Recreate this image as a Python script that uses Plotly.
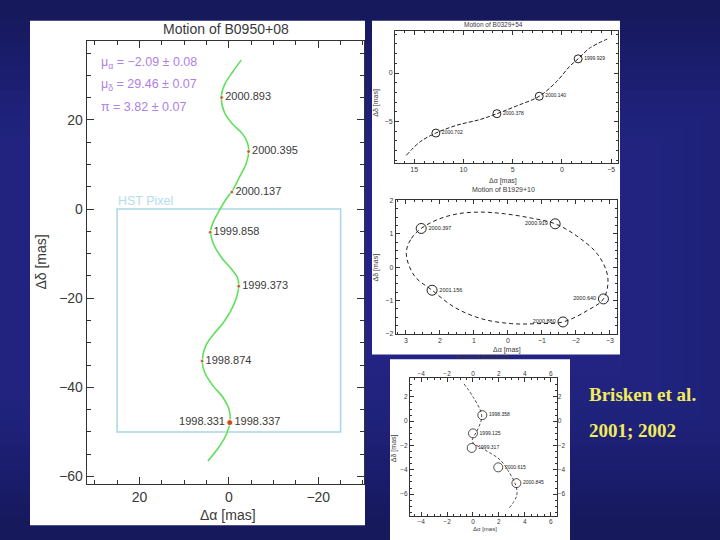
import plotly.graph_objects as go

W, H = 720, 540

# ---------------- Main panel: B0950+08 ----------------
curve_x = [-2.77, -0.89, 0.96, 1.70, 0.96, -0.89, -3.13, -4.24, -4.46, -3.88, -2.39, -0.89,
           0.96, 2.46, 3.57, 4.08, 3.57, 1.70, -0.54, -1.88, -2.23, -1.65, -0.54, 1.34,
           3.19, 5.04, 5.94, 5.42, 3.57, 1.34, 0.0, -0.31, 0.45, 2.08, 4.69]
curve_y = [33.4, 30.8, 27.9, 24.9, 21.6, 19.0, 16.8, 14.6, 13.0, 10.2, 7.2, 4.3,
           1.7, -0.9, -3.1, -4.9, -7.5, -10.8, -13.4, -15.3, -17.1, -20.0, -22.6, -25.6,
           -27.8, -30.4, -34.1, -36.6, -39.6, -42.2, -44.8, -47.3, -50.3, -53.2, -56.5]
epochs = ["1998.331", "1998.337", "1998.874", "1999.373", "1999.858", "2000.137", "2000.395", "2000.893"]
epoch_x = [-0.2, -0.2, 6.0, -2.2, 4.2, -0.7, -4.4, 1.6]
epoch_y = [-47.9, -47.9, -34.1, -17.3, -5.2, 3.8, 12.9, 25.0]
hst_box = [25, -25, -50, 0]  # x0, x1, y0, y1
params = ["μ<sub>α</sub> = −2.09 ± 0.08", "μ<sub>δ</sub> = 29.46 ± 0.07", "π = 3.82 ± 0.07"]
main_xticks = [20, 0, -20]
main_yticks = [20, 0, -20, -40, -60]

# ---------------- Panel 2: B0329+54 ----------------
p2_x = [15.8, 14.4, 12.8, 10.7, 8.3, 6.6, 4.6, 2.3, 0.5, -0.8, -1.65, -2.8, -4.6]
p2_y = [-8.5, -7.1, -6.2, -5.4, -4.8, -4.2, -3.4, -2.4, -0.85, 0.7, 1.46, 2.55, 3.5]
p2_ep = ["2000.702", "2000.378", "2000.140", "1999.929"]
p2_ep_x = [12.8, 6.6, 2.3, -1.65]
p2_ep_y = [-6.2, -4.2, -2.4, 1.46]

# ---------------- Panel 3: B1929+10 ----------------
p3_x = [2.99, 2.84, 2.55, 2.06, 1.47, 0.79, 0.10, -0.69, -1.39, -2.06, -2.65, -2.94,
        -2.81, -2.35, -1.62, -0.88, -0.10, 0.79, 1.57, 2.23, 2.75, 2.99]
p3_y = [0.42, 0.86, 1.16, 1.43, 1.60, 1.65, 1.60, 1.47, 1.30, 0.91, 0.37, -0.31,
        -0.95, -1.29, -1.64, -1.69, -1.69, -1.54, -1.20, -0.69, -0.26, 0.42]
p3_ep = ["2000.397", "2000.919", "2001.156", "2000.640", "2000.880"]
p3_ep_x = [2.55, -1.39, 2.23, -2.81, -1.62]
p3_ep_y = [1.16, 1.30, -0.69, -0.95, -1.64]
p3_pos = ["middle right", "middle left", "middle right", "middle left", "middle left"]

# ---------------- Panel 5: B2016+28 ----------------
p5_x = [-0.69, 0.02, 0.67, 0.41, -0.05, 0.93, 2.08, 2.73, 3.32, 3.37, 2.73]
p5_y = [3.07, 1.98, 0.49, -0.59, -1.67, -2.36, -3.17, -4.11, -5.33, -6.15, -7.24]
p5_ep = ["1998.358", "1999.125", "1999.317", "2000.615", "2000.845"]
p5_ep_x = [0.72, 0.0, -0.1, 1.95, 3.35]
p5_ep_y = [0.5, -1.0, -2.2, -3.8, -5.1]


def fx(px):
    return px / W


def fy(py):
    return 1 - py / H


fig = go.Figure()

# main
fig.add_trace(go.Scatter(x=curve_x, y=curve_y, mode="lines", line=dict(color="#5fe05a", width=1.6, shape="spline"),
                         xaxis="x", yaxis="y", hoverinfo="skip"))
fig.add_trace(go.Scatter(x=epoch_x, y=epoch_y, mode="markers+text", text=epochs,
                         textposition=["middle left"] + ["middle right"] * 7,
                         textfont=dict(family="Liberation Sans", size=11, color="#3a3a3a"),
                         marker=dict(color="#d03a10", size=[6, 6, 4, 4, 4, 4, 4, 4]),
                         xaxis="x", yaxis="y"))
# panel 2
fig.add_trace(go.Scatter(x=p2_x, y=p2_y, mode="lines", line=dict(color="#222", width=1, dash="4px,2px", shape="spline"),
                         xaxis="x2", yaxis="y2"))
fig.add_trace(go.Scatter(x=p2_ep_x, y=p2_ep_y, mode="markers+text", text=p2_ep, textposition="middle right",
                         textfont=dict(family="Liberation Sans", size=5, color="#222"),
                         marker=dict(symbol="circle-open", size=8, color="#222", line=dict(width=1)),
                         xaxis="x2", yaxis="y2"))
# panel 3
fig.add_trace(go.Scatter(x=p3_x, y=p3_y, mode="lines", line=dict(color="#222", width=1, dash="4px,3px", shape="spline"),
                         xaxis="x3", yaxis="y3"))
fig.add_trace(go.Scatter(x=p3_ep_x, y=p3_ep_y, mode="markers+text", text=p3_ep, textposition=p3_pos,
                         textfont=dict(family="Liberation Sans", size=5.5, color="#222"),
                         marker=dict(symbol="circle-open", size=10, color="#222", line=dict(width=1)),
                         xaxis="x3", yaxis="y3"))
# panel 5
fig.add_trace(go.Scatter(x=p5_x, y=p5_y, mode="lines", line=dict(color="#222", width=0.8, dash="3px,2px", shape="spline"),
                         xaxis="x5", yaxis="y5"))
fig.add_trace(go.Scatter(x=p5_ep_x, y=p5_ep_y, mode="markers+text", text=p5_ep, textposition="middle right",
                         textfont=dict(family="Liberation Sans", size=5, color="#222"),
                         marker=dict(symbol="circle-open", size=9, color="#222", line=dict(width=0.8)),
                         xaxis="x5", yaxis="y5"))
fig.add_trace(go.Scatter(x=[0], y=[0], xaxis="x6", yaxis="y6", mode="markers",
                         marker=dict(opacity=0), showlegend=False, hoverinfo="skip"))

tick_col = "#333"


def axis(domain, rng, dtick, mdtick, fsize, tlen, mlen, anchor, tickvals=None, showlabels=True):
    d = dict(domain=domain, range=rng, anchor=anchor, showgrid=False, zeroline=False,
             showline=True, linecolor=tick_col, linewidth=1, mirror="allticks",
             ticks="inside", ticklen=tlen, tickcolor=tick_col, tickwidth=1,
             dtick=dtick, tick0=0, showticklabels=showlabels,
             tickfont=dict(family="Liberation Sans", size=fsize, color="#3a3a3a"),
             minor=dict(dtick=mdtick, tick0=0, ticks="inside", ticklen=mlen, tickcolor=tick_col),
             fixedrange=True)
    if tickvals is not None:
        d["tickmode"] = "array"
        d["tickvals"] = tickvals
        d["ticktext"] = [str(v).replace("-", "−") for v in tickvals]
        d.pop("dtick")
    return d


layout = dict(
    width=W, height=H, autosize=False, margin=dict(l=0, r=0, t=0, b=0),
    paper_bgcolor="#16195c", plot_bgcolor="rgba(0,0,0,0)", showlegend=False,
    xaxis=axis([fx(86.7), fx(364.3)], [31.8, -30.3], 20, 5, 14, 7, 4, "y", tickvals=main_xticks),
    yaxis=axis([fy(486), fy(37)], [-61.6, 37.8], 20, 5, 14, 7, 4, "x", tickvals=main_yticks),
    xaxis2=axis([fx(395), fx(618)], [16.95, -5.7], 5, 1, 7, 4, 2, "y2"),
    yaxis2=axis([fy(160.7), fy(27.7)], [-9.25, 4.3], 5, 1, 7, 4, 2, "x2"),
    xaxis3=axis([fx(395.7), fx(616.7)], [3.3, -3.2], 1, 0.25, 7, 4, 2, "y3"),
    yaxis3=axis([fy(334.3), fy(199)], [-2, 2], 1, 0.25, 7, 4, 2, "x3"),
    xaxis5=axis([fx(410), fx(556.7)], [-4.86, 6.46], 2, 0.5, 6.5, 4, 2, "y5"),
    yaxis5=axis([fy(518.3), fy(379)], [-7.77, 3.55], 2, 0.5, 6.5, 4, 2, "x5"),
    xaxis6=dict(overlaying="x5", side="top", anchor="y5", range=[-4.86, 6.46], dtick=2, tick0=0,
                showgrid=False, zeroline=False, showline=False, ticks="",
                tickfont=dict(family="Liberation Sans", size=6.5, color="#3a3a3a"), fixedrange=True),
    yaxis6=dict(overlaying="y5", side="right", anchor="x5", range=[-7.77, 3.55], dtick=2, tick0=0,
                showgrid=False, zeroline=False, showline=False, ticks="",
                tickfont=dict(family="Liberation Sans", size=6.5, color="#3a3a3a"), fixedrange=True),
)

shapes = []
# background glow (style only)
for i in range(18):
    shapes.append(dict(type="rect", xref="paper", yref="paper", layer="below",
                       x0=-0.25 + i * 0.025, x1=1.2 - i * 0.028, y0=0.04 + i * 0.022, y1=0.97 - i * 0.022,
                       fillcolor="#2b30b2", opacity=0.06, line=dict(width=0)))
# white panels
for (a, b, c, d) in [(30, 365, 17, 528), (372, 620, 17, 355), (390, 570, 360, 545)]:
    shapes.append(dict(type="rect", xref="paper", yref="paper", layer="below",
                       x0=fx(a), x1=fx(b), y0=fy(d), y1=fy(c), fillcolor="white", line=dict(width=0)))
shapes.append(dict(type="rect", xref="x", yref="y", layer="below",
                   x0=hst_box[0], x1=hst_box[1], y0=hst_box[2], y1=hst_box[3],
                   line=dict(color="#a9d6e6", width=1.5), fillcolor="rgba(0,0,0,0)"))
layout["shapes"] = shapes

ann = []


def txt(t, x, y, size, color="#3a3a3a", angle=0, xanchor="center", family="Liberation Sans", **kw):
    ann.append(dict(text=t, x=fx(x), y=fy(y), xref="paper", yref="paper", showarrow=False,
                    font=dict(family=family, size=size, color=color), textangle=angle,
                    xanchor=xanchor, yanchor="middle", **kw))


txt("Motion of B0950+08", 226, 25, 14)
txt("Δα [mas]", 228, 518, 14)
txt("Δδ [mas]", 41, 262, 14, angle=-90)
for i, p in enumerate(params):
    txt(p, 99, 60 + i * 22.2, 12.5, color="#b07fe2", xanchor="left")
txt("HST Pixel", 116, 200, 12.5, color="#b5dcea", xanchor="left")

txt("Motion of B0329+54", 493, 21, 6.5)
txt("Δα [mas]", 503, 179, 7)
txt("Δδ [mas]", 376, 100, 7, angle=-90)

txt("Motion of B1929+10", 503, 188, 7)
txt("Δα [mas]", 507, 351, 7)
txt("Δδ [mas]", 376, 267, 7, angle=-90)

txt("Motion of B2016+28", 483, 358, 6)
txt("Δα [mas]", 485, 532, 6)
txt("Δδ [mas]", 394, 450, 7, angle=-90)

txt("<b>Brisken et al.</b>", 587, 396, 19, color="#f2ec5c", xanchor="left", family="Liberation Serif")
txt("<b>2001; 2002</b>", 587, 432, 19, color="#f2ec5c", xanchor="left", family="Liberation Serif")
layout["annotations"] = ann

fig.update_layout(**layout)
fig.write_html("out.html", config={"displayModeBar": False},
               post_script="document.body.style.margin='0';document.body.style.padding='0';"
                           "document.body.style.background='#16195c';document.body.style.overflow='hidden';")
